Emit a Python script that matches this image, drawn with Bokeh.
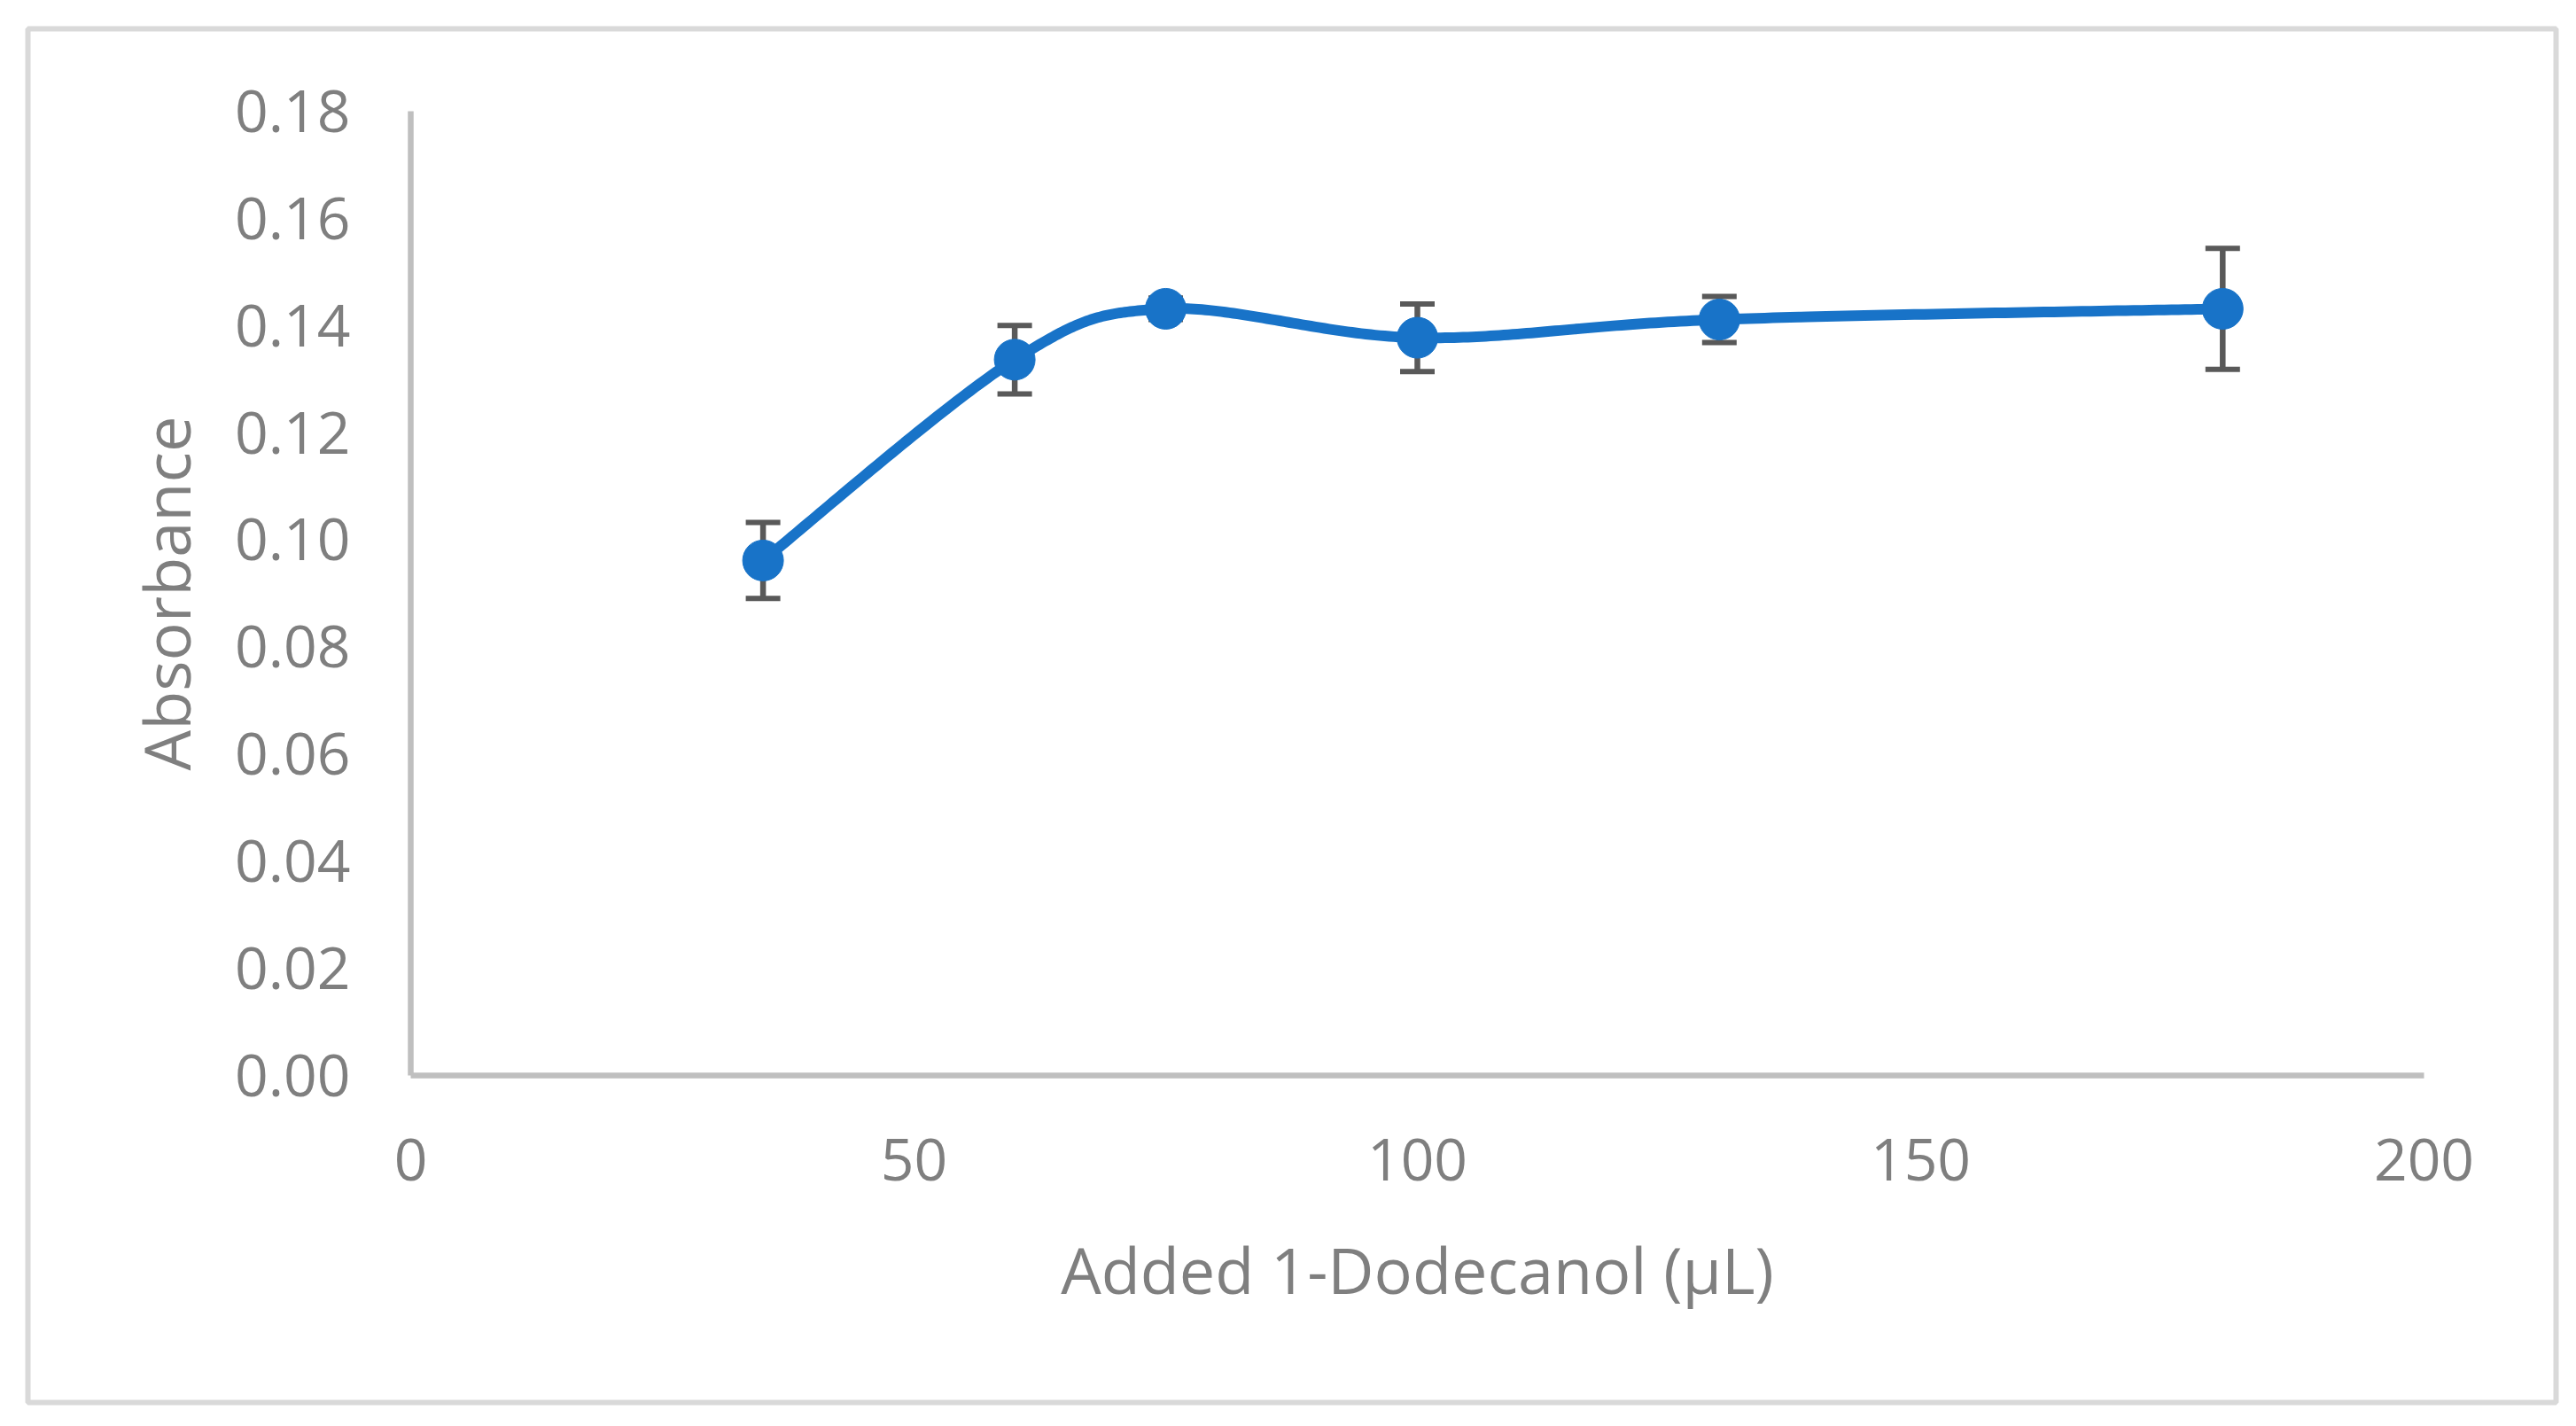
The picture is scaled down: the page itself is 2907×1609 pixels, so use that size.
import numpy as np
from bokeh.plotting import figure
from bokeh.models import ColumnDataSource, Whisker, TeeHead, FixedTicker, NumeralTickFormatter, Range1d
from bokeh.embed import file_html
from bokeh.resources import INLINE

# ---------------- data ----------------
volume_ul = [35, 60, 75, 100, 130, 180]
absorbance = [0.0961, 0.1336, 0.1431, 0.1377, 0.1411, 0.1431]
absorbance_sd = [0.0071, 0.0064, 0.0020, 0.0063, 0.0043, 0.0113]

x_ticks = [0, 50, 100, 150, 200]
y_ticks = [0.00, 0.02, 0.04, 0.06, 0.08, 0.10, 0.12, 0.14, 0.16, 0.18]
y_tick_labels = ["0.00", "0.02", "0.04", "0.06", "0.08", "0.10", "0.12", "0.14", "0.16", "0.18"]

x_title = "Added 1-Dodecanol (µL)"
y_title = "Absorbance"

# ---------------- layout (pixels) ----------------
W, H = 2900, 1598
FL, FT, FR, FB = 31, 32, 16, 16          # frame = outer bordered box
frame_w = W - FL - FR
frame_h = H - FT - FB
X0_PX, X1_PX = 463 - FL, 2735 - FL        # x = 0 and x = 200 from frame left
Y0_PX, Y1_PX = 1212.5 - FT, 125 - FT      # y = 0 and y = 0.18 from frame top

sx = (X1_PX - X0_PX) / (x_ticks[-1] - x_ticks[0])
sy = (Y0_PX - Y1_PX) / (y_ticks[-1] - y_ticks[0])
x_start = x_ticks[0] - X0_PX / sx
x_end = x_start + frame_w / sx
y_end = y_ticks[0] + Y0_PX / sy
y_start = y_end - frame_h / sy

BLUE = "#1873C8"
TEXT = "#7f7f7f"
FONT = "Open Sans"


def smooth_curve(xs, ys, n=60):
    """Excel-like smoothed line: Catmull-Rom style cubic Bezier through the points."""
    P = np.column_stack([xs, ys]).astype(float)
    ext = np.vstack([P[0], P, P[-1]])
    t = np.linspace(0.0, 1.0, n)[:, None]
    parts = []
    for i in range(len(P) - 1):
        p0, p1, p2, p3 = ext[i], ext[i + 1], ext[i + 2], ext[i + 3]
        c1 = p1 + (p2 - p0) / 6.0
        c2 = p2 - (p3 - p1) / 6.0
        seg = (1 - t) ** 3 * p1 + 3 * (1 - t) ** 2 * t * c1 + 3 * (1 - t) * t ** 2 * c2 + t ** 3 * p2
        parts.append(seg if i == 0 else seg[1:])
    return np.vstack(parts)


curve = smooth_curve(volume_ul, absorbance)

p = figure(width=W, height=H, output_backend="svg", toolbar_location=None,
           x_range=Range1d(x_start, x_end), y_range=Range1d(y_start, y_end),
           min_border_left=FL, min_border_top=FT, min_border_right=FR, min_border_bottom=FB,
           background_fill_color="white", border_fill_color="white")
p.outline_line_color = "#d9d9d9"
p.outline_line_width = 6
p.xgrid.visible = False
p.ygrid.visible = False

xa = p.xaxis[0]
ya = p.yaxis[0]
for ax in (xa, ya):
    ax.fixed_location = 0
    ax.axis_line_color = "#bfbfbf"
    ax.axis_line_width = 6.5
    ax.major_tick_line_color = None
    ax.minor_tick_line_color = None
    ax.major_tick_in = 0
    ax.major_tick_out = 0
    ax.minor_tick_in = 0
    ax.minor_tick_out = 0
    ax.major_label_text_font = FONT
    ax.major_label_text_font_size = "66px"
    ax.major_label_text_color = TEXT
    ax.axis_label_text_font = FONT
    ax.axis_label_text_font_size = "72px"
    ax.axis_label_text_color = TEXT
    ax.axis_label_text_font_style = "normal"

xa.bounds = (x_ticks[0], x_ticks[-1])
xa.ticker = FixedTicker(ticks=x_ticks)
xa.axis_label = x_title
xa.major_label_standoff = 72
xa.axis_label_standoff = 47

ya.bounds = (y_ticks[0], y_ticks[-1])
ya.ticker = FixedTicker(ticks=y_ticks)
ya.formatter = NumeralTickFormatter(format="0.00")
ya.major_label_overrides = {t: lab for t, lab in zip(y_ticks, y_tick_labels)}
ya.axis_label = y_title
ya.major_label_standoff = 68
ya.axis_label_standoff = 26

src = ColumnDataSource(dict(
    x=volume_ul,
    y=absorbance,
    upper=[a + e for a, e in zip(absorbance, absorbance_sd)],
    lower=[a - e for a, e in zip(absorbance, absorbance_sd)],
))

whisk = Whisker(base="x", upper="upper", lower="lower", source=src,
                line_color="#595959", line_width=6.5, level="underlay",
                upper_head=TeeHead(size=39, line_color="#595959", line_width=6),
                lower_head=TeeHead(size=39, line_color="#595959", line_width=6))
p.add_layout(whisk)

p.line(curve[:, 0], curve[:, 1], line_color=BLUE, line_width=12, line_join="round", line_cap="round")
p.scatter("x", "y", source=src, size=46, fill_color=BLUE, line_color=BLUE, line_width=1)

open("out.html", "w").write(file_html(p, INLINE))
